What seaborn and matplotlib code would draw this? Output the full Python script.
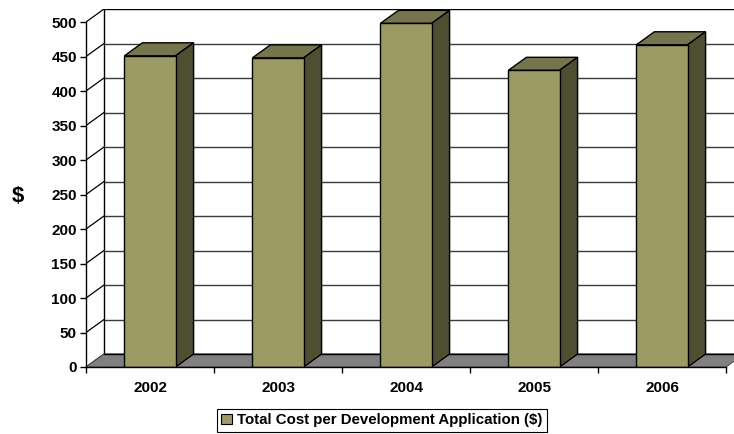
import numpy as np
import pandas as pd
import seaborn as sns
import matplotlib.pyplot as plt
from matplotlib.patches import Polygon, Patch

years = ['2002', '2003', '2004', '2005', '2006']
cost = [451, 448, 498, 430, 467]
yticks = list(range(0, 501, 50))
legend_label = 'Total Cost per Development Application ($)'

front_col = '#9c9b65'
top_col = '#75744d'
side_col = '#4e4e33'
floor_col = '#808080'

sns.set_style('white')
plt.rcParams['font.family'] = ['Liberation Sans', 'DejaVu Sans']
plt.rcParams['font.weight'] = 'bold'
plt.rcParams['text.color'] = 'black'
plt.rcParams['xtick.color'] = 'black'
plt.rcParams['ytick.color'] = 'black'
plt.rcParams['axes.labelcolor'] = 'black'

fig = plt.figure(figsize=(7.34, 4.34), dpi=100)
W, H = 734, 434
# front plane: x 86..726 px, y 367 (0) .. 22 (500)
ax = fig.add_axes([86 / W, (H - 367) / H, (W - 86) / W, (367 - 9) / H])
ppx = 128.0          # px per category
ppy = 345.0 / 500    # px per unit
dx = 18 / ppx
dy = 13 / ppy
ax.set_xlim(-0.5, -0.5 + (W - 86) / ppx)
ax.set_ylim(0, (367 - 9) / ppy)

df = pd.DataFrame({'year': years, 'cost': cost})

# back wall gridlines
x_right = ax.get_xlim()[1]
for v in yticks:
    col = 'black' if v in (0, 500) else '#3a3a3a'
    ax.plot([-0.5 + dx, x_right], [v + dy, v + dy], color=col, lw=1.0, zorder=1)
    ax.plot([-0.5, -0.5 + dx], [v, v + dy], color='black', lw=0.9, zorder=1)
ax.plot([-0.5 + dx, -0.5 + dx], [dy, 500 + dy], color='black', lw=1.0, zorder=1)

# floor
n = len(years)
floor = Polygon([(-0.5, 0), (n - 0.5, 0), (n - 0.5 + dx, dy), (-0.5 + dx, dy)],
                closed=True, facecolor=floor_col, edgecolor='#555555', lw=0.8, zorder=2)
ax.add_patch(floor)
ax.plot([-0.5 + dx, x_right], [dy, dy], color='black', lw=1.0, zorder=2.5)

sns.barplot(data=df, x='year', y='cost', width=0.4, color=front_col,
            edgecolor='black', linewidth=1.0, saturation=1, ax=ax, zorder=4)

for p in ax.patches:
    if p is floor:
        continue
    x0 = p.get_x()
    x1 = x0 + p.get_width()
    h = p.get_height()
    top = Polygon([(x0, h), (x1, h), (x1 + dx, h + dy), (x0 + dx, h + dy)],
                  closed=True, facecolor=top_col, edgecolor='black', lw=1.0, zorder=3)
    side = Polygon([(x1, 0), (x1, h), (x1 + dx, h + dy), (x1 + dx, dy)],
                   closed=True, facecolor=side_col, edgecolor='black', lw=1.0, zorder=3)
    ax.add_patch(top)
    ax.add_patch(side)

# axes styling
ax.set_xlim(-0.5, x_right)
ax.set_ylim(0, (367 - 9) / ppy)
sns.despine(ax=ax, top=True, right=True)
ax.spines['left'].set_bounds(0, 500)
ax.spines['bottom'].set_bounds(-0.5, n - 0.5)
for s in ('left', 'bottom'):
    ax.spines[s].set_color('black')
    ax.spines[s].set_linewidth(1.0)
    ax.spines[s].set_zorder(5)

ax.set_yticks(yticks)
ax.set_yticklabels([str(v) for v in yticks], fontsize=11, fontweight='bold')
ax.tick_params(axis='y', direction='out', length=4.5, width=1, color='black', pad=2, left=True)
ax.set_xticks(range(n))
ax.set_xticklabels(years, fontsize=11, fontweight='bold')
ax.tick_params(axis='x', length=0, pad=10)
ax.set_xticks(np.arange(-0.5, n, 1.0), minor=True)
ax.tick_params(axis='x', which='minor', direction='out', length=4.5, width=1, color='black', bottom=True)
ax.set_xlabel('')
ax.set_ylabel('$', fontsize=16, fontweight='bold', rotation=0, labelpad=0, va='center')
ax.yaxis.set_label_coords(-68 / (W - 86), (367 - 196) / (367 - 9))
ax.set_facecolor('none')

handle = Patch(facecolor=front_col, edgecolor='black', lw=0.8)
leg = fig.legend([handle], [legend_label], loc='center', bbox_to_anchor=(382 / W, (H - 420) / H),
                 frameon=True, fancybox=False, framealpha=1, edgecolor='black',
                 prop={'size': 10.8, 'weight': 'bold'}, handlelength=0.7, handleheight=0.7,
                 handletextpad=0.35, borderpad=0.3, borderaxespad=0)
leg.get_frame().set_linewidth(0.8)

fig.savefig('out.png', dpi=100)
